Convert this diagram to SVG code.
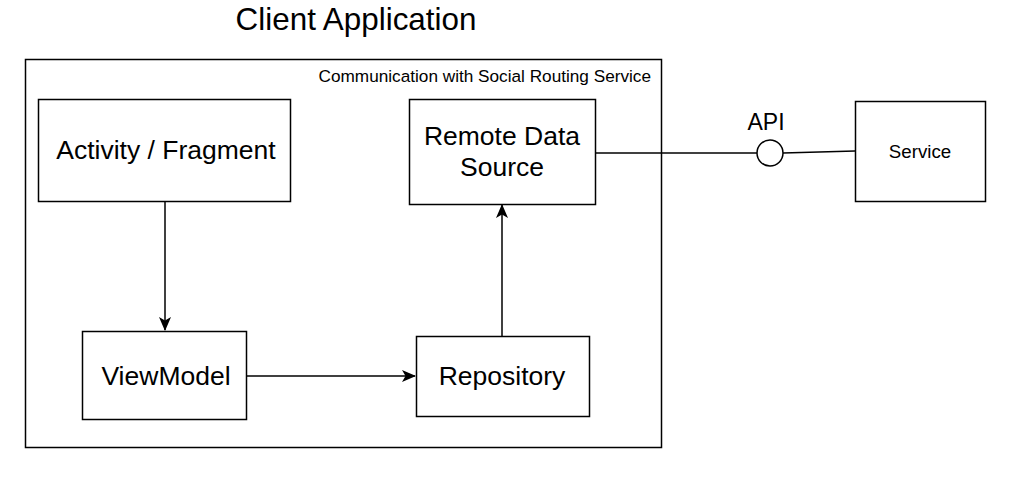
<svg xmlns="http://www.w3.org/2000/svg" width="1010" height="477" viewBox="0 0 1010 477">
<style>
.box{fill:#fff;stroke:#000;stroke-width:1.5}
.t{font-family:"Liberation Sans",Arial,sans-serif;fill:#000;text-anchor:middle}
.c{fill:none;stroke:#000;stroke-width:1.5}
</style>
<defs>
<marker id="arr" viewBox="0 0 14 12" refX="13" refY="6" markerWidth="14" markerHeight="12" markerUnits="userSpaceOnUse" orient="auto">
<path d="M0,0 L14,6 L0,12 L3.5,6 Z" fill="#000"/>
</marker>
</defs>
<rect width="1010" height="477" fill="#fff"/>
<text class="t" x="356" y="30" font-size="31.4">Client Application</text>
<g id="container">
<rect class="box" x="25.5" y="59.5" width="636" height="388"/>
<text class="t" x="651" y="82" font-size="17.2" style="text-anchor:end">Communication with Social Routing Service</text>
</g>
<g id="connectors">
<line class="c" x1="165" y1="201" x2="165" y2="330" marker-end="url(#arr)"/>
<line class="c" x1="246" y1="376" x2="415" y2="376" marker-end="url(#arr)"/>
<line class="c" x1="502" y1="336" x2="502" y2="205" marker-end="url(#arr)"/>
<line class="c" x1="595" y1="153" x2="757" y2="153"/>
<line class="c" x1="783" y1="153" x2="855" y2="151"/>
</g>
<g id="activity">
<rect class="box" x="38.5" y="99.5" width="252" height="102"/>
<text class="t" x="166" y="159" font-size="26.5">Activity / Fragment</text>
</g>
<g id="remote">
<rect class="box" x="409.5" y="99.5" width="186" height="105"/>
<text class="t" x="502" y="145" font-size="26.5">Remote Data</text>
<text class="t" x="502" y="176" font-size="26.5">Source</text>
</g>
<g id="viewmodel">
<rect class="box" x="82.5" y="331.5" width="164" height="88"/>
<text class="t" x="166" y="385" font-size="26.5">ViewModel</text>
</g>
<g id="repository">
<rect class="box" x="416.5" y="336.5" width="173" height="80"/>
<text class="t" x="502" y="385" font-size="26.5">Repository</text>
</g>
<g id="api">
<circle cx="770" cy="153" r="13" fill="#fff" stroke="#000" stroke-width="1.5"/>
<text class="t" x="766" y="130" font-size="23">API</text>
</g>
<g id="service">
<rect class="box" x="855.5" y="101.5" width="130" height="100"/>
<text class="t" x="920" y="158" font-size="18.7">Service</text>
</g>
</svg>
